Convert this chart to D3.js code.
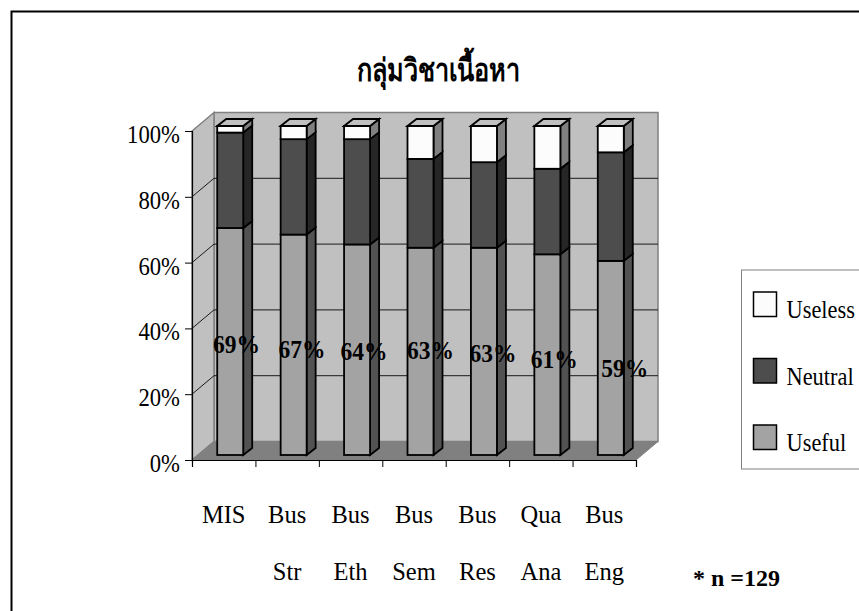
<!DOCTYPE html>
<html>
<head>
<meta charset="utf-8">
<script src="https://cdn.jsdelivr.net/npm/d3@7"></script>
<style>
  html, body { margin: 0; padding: 0; background: #fff; }
  svg { display: block; }
  text { font-family: "Liberation Serif", serif; fill: #000; }
</style>
</head>
<body>
<div id="chart"></div>
<script>
var categories = ['MIS', 'Bus', 'Bus', 'Bus', 'Bus', 'Qua', 'Bus'];
var categories2 = ['', 'Str', 'Eth', 'Sem', 'Res', 'Ana', 'Eng'];
var useful = [69, 67, 64, 63, 63, 61, 59];
var neutral = [29, 29, 32, 27, 26, 26, 33];
var useless = [2, 4, 4, 10, 11, 13, 8];
var ticks = [0, 20, 40, 60, 80, 100];
var seriesNames = ['Useless', 'Neutral', 'Useful'];
var title = 'กลุ่มวิชาเนื้อหา';

var width = 859, height = 611;
var front = { left: 192, right: 636, top: 131, bottom: 460 };
var wall = { dx: 22, dy: -18.5 };
var bar = { dx: 6.5, dy: -5, depthX: 9, depthY: -7 };

// hand placed in the original, so the labels drift a bit from the bar middle
var labelDrop = [3.5, 5.2, 2.3, -0.4, 2.3, 5, 10.8];
var labelShift = [6.3, 8.4, 7, 10, 9, 7, 14];

var colors = {
  Useful: { face: '#a3a3a3', side: '#525252', top: '#a3a3a3' },
  Neutral: { face: '#4d4d4d', side: '#262626', top: '#4d4d4d' },
  Useless: { face: '#fcfcfc', side: '#808080', top: '#c0c0c0' }
};

var svg = d3.select('#chart').append('svg')
  .attr('width', width)
  .attr('height', height);

svg.append('rect')
  .attr('x', 11.5).attr('y', 11.5)
  .attr('width', width).attr('height', height)
  .attr('fill', '#fff').attr('stroke', '#000').attr('stroke-width', 2);

var y = d3.scaleLinear().domain([0, 100]).range([front.bottom, front.top]);
var x = d3.scaleBand()
  .domain(d3.range(categories.length))
  .range([front.left, front.right]);

function poly(points) {
  return 'M' + points.map(function (p) { return p.join(','); }).join('L') + 'Z';
}

// the reference text is stretched, so draw it with a scale about its anchor
function stretched(sel, px, py, sx, sy) {
  return sel.attr('x', 0).attr('y', 0)
    .attr('transform', 'translate(' + px + ',' + py + ') scale(' + sx + ',' + sy + ')');
}

// walls and floor
var walls = svg.append('g');
walls.append('path')
  .attr('d', poly([
    [front.left + wall.dx, y(100) + wall.dy],
    [front.right + wall.dx, y(100) + wall.dy],
    [front.right + wall.dx, y(0) + wall.dy],
    [front.left + wall.dx, y(0) + wall.dy]
  ]))
  .attr('fill', '#c0c0c0').attr('stroke', '#808080').attr('stroke-width', 1.5);
walls.append('path')
  .attr('d', poly([
    [front.left, y(100)],
    [front.left + wall.dx, y(100) + wall.dy],
    [front.left + wall.dx, y(0) + wall.dy],
    [front.left, y(0)]
  ]))
  .attr('fill', '#c0c0c0').attr('stroke', '#808080').attr('stroke-width', 1.5);
walls.append('path')
  .attr('d', poly([
    [front.left, y(0)],
    [front.left + wall.dx, y(0) + wall.dy],
    [front.right + wall.dx, y(0) + wall.dy],
    [front.right, y(0)]
  ]))
  .attr('fill', '#808080').attr('stroke', '#808080');

// gridlines
ticks.slice(1, -1).forEach(function (t) {
  walls.append('path')
    .attr('d', 'M' + front.left + ',' + y(t) +
      'L' + (front.left + wall.dx) + ',' + (y(t) + wall.dy) +
      'L' + (front.right + wall.dx) + ',' + (y(t) + wall.dy))
    .attr('fill', 'none').attr('stroke', '#1a1a1a').attr('stroke-width', 1);
});

// axes
var yAxis = d3.axisLeft(y)
  .tickValues(ticks)
  .tickSize(7)
  .tickFormat(function (d) { return d + '%'; });
var yG = svg.append('g')
  .attr('transform', 'translate(' + front.left + ',0)')
  .call(yAxis);
yG.selectAll('text')
  .style('font-size', '22.7px')
  .attr('dy', null)
  .attr('transform', 'translate(-12,11.5) scale(1,1.15)')
  .attr('x', 0);

var xAxis = d3.axisBottom(d3.scaleLinear().domain([0, 7]).range([front.left, front.right]))
  .tickValues(d3.range(8))
  .tickSize(7)
  .tickFormat('');
svg.append('g')
  .attr('transform', 'translate(0,' + front.bottom + ')')
  .call(xAxis);
svg.selectAll('.domain').attr('stroke', '#000').attr('stroke-width', 1.2);

// stacked bars
var barWidth = 26;
var rows = categories.map(function (c, i) {
  return { Useful: useful[i], Neutral: neutral[i], Useless: useless[i], i: i };
});
var stacked = d3.stack().keys(['Useful', 'Neutral', 'Useless'])(rows);

stacked.forEach(function (layer) {
  var c = colors[layer.key];
  var g = svg.append('g');
  layer.forEach(function (d, i) {
    var x0 = x(i) + x.bandwidth() / 2 - barWidth / 2 + bar.dx;
    var x1 = x0 + barWidth;
    var y0 = y(d[0]) + bar.dy;
    var y1 = y(d[1]) + bar.dy;
    g.append('path')
      .attr('d', poly([[x1, y0], [x1 + bar.depthX, y0 + bar.depthY], [x1 + bar.depthX, y1 + bar.depthY], [x1, y1]]))
      .attr('fill', c.side).attr('stroke', '#000').attr('stroke-width', 1.8);
    g.append('rect')
      .attr('x', x0).attr('y', y1)
      .attr('width', barWidth).attr('height', y0 - y1)
      .attr('fill', c.face).attr('stroke', '#000').attr('stroke-width', 1.8);
    if (layer.key === 'Useless') {
      g.append('path')
        .attr('d', poly([[x0, y1], [x0 + bar.depthX, y1 + bar.depthY], [x1 + bar.depthX, y1 + bar.depthY], [x1, y1]]))
        .attr('fill', c.top).attr('stroke', '#000').attr('stroke-width', 1.8);
    }
  });
});

// value labels
svg.append('g').selectAll('text')
  .data(useful)
  .enter()
  .append('text')
  .attr('text-anchor', 'middle')
  .style('font-size', '23.5px')
  .style('font-weight', 'bold')
  .attr('transform', function (d, i) {
    var px = x(i) + x.bandwidth() / 2 + bar.dx + labelShift[i];
    var py = y(d / 2) + bar.dy + 8 + labelDrop[i];
    return 'translate(' + px + ',' + py + ') scale(1,1.1)';
  })
  .text(function (d) { return d + '%'; });

// category labels
svg.append('g').selectAll('text')
  .data(categories)
  .enter()
  .append('text')
  .attr('x', function (d, i) { return x(i) + x.bandwidth() / 2; })
  .attr('y', 523)
  .attr('text-anchor', 'middle')
  .style('font-size', '24.5px')
  .text(function (d) { return d; });
svg.append('g').selectAll('text')
  .data(categories2)
  .enter()
  .append('text')
  .attr('x', function (d, i) { return x(i) + x.bandwidth() / 2; })
  .attr('y', 580)
  .attr('text-anchor', 'middle')
  .style('font-size', '24.5px')
  .text(function (d) { return d; });

// title
svg.append('text')
  .call(stretched, 438.5, 81, 0.84, 1.05)
  .attr('text-anchor', 'middle')
  .style('font-size', '30px')
  .style('font-weight', 'bold')
  .text(title);

// legend
svg.append('rect')
  .attr('x', 741.5).attr('y', 270)
  .attr('width', 130).attr('height', 199)
  .attr('fill', '#fff').attr('stroke', '#808080').attr('stroke-width', 1);
seriesNames.forEach(function (name, i) {
  var ly = 292 + i * 66.5;
  svg.append('rect')
    .attr('x', 753.5).attr('y', ly)
    .attr('width', 23).attr('height', 24.5)
    .attr('fill', colors[name].face).attr('stroke', '#000').attr('stroke-width', 1.5);
  svg.append('text')
    .call(stretched, 786.5, ly + 26, 1, 1.15)
    .style('font-size', '22.4px')
    .text(name);
});

svg.append('text')
  .attr('x', 693).attr('y', 586)
  .style('font-size', '24px')
  .style('font-weight', 'bold')
  .text('* n =129');
</script>
</body>
</html>
